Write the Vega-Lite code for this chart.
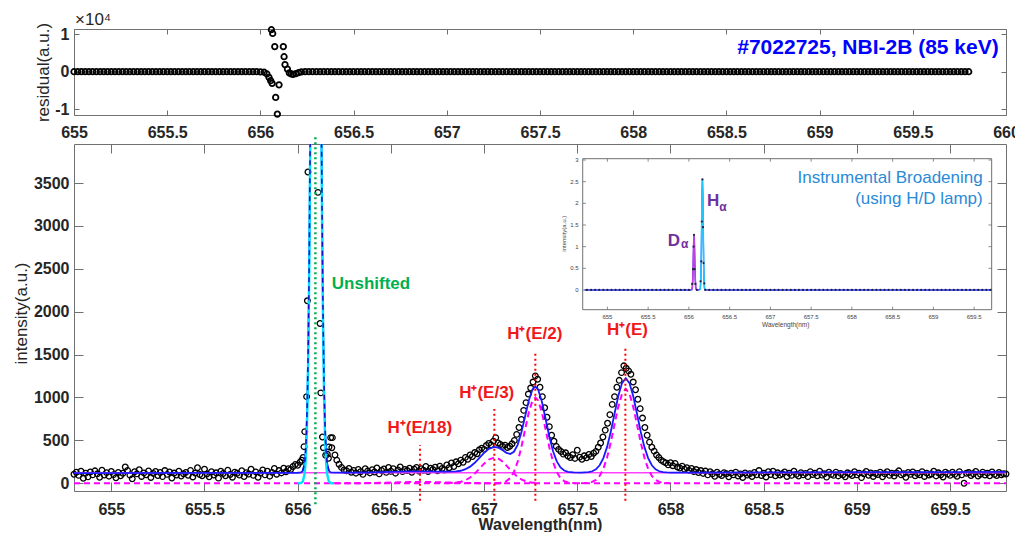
{
"$schema":"https://vega.github.io/schema/vega-lite/v6.json",
"padding":{"left":12,"top":10,"right":5,"bottom":0},
"bounds":"flush",
"spacing":29,
"config":{"font":"Liberation Sans","view":{"stroke":null},
 "axis":{"grid":false,"domainColor":"#707070","tickColor":"#707070","domainWidth":1,"tickWidth":1,"labelColor":"#262626","labelFont":"Liberation Sans","labelFontWeight":"bold","labelFontSize":16,"labelFlush":false,"titleColor":"#262626","titleFont":"Liberation Sans","titleFontSize":17,"titleFontWeight":"normal"}},
"datasets":{
"res":[{"w":655,"r":0},{"w":655.02,"r":0},{"w":655.04,"r":0},{"w":655.06,"r":0},{"w":655.08,"r":0},{"w":655.1,"r":0},{"w":655.12,"r":0},{"w":655.14,"r":0},{"w":655.16,"r":0},{"w":655.18,"r":0},{"w":655.2,"r":0},{"w":655.22,"r":0},{"w":655.24,"r":0},{"w":655.26,"r":0},{"w":655.28,"r":0},{"w":655.3,"r":0},{"w":655.32,"r":0},{"w":655.34,"r":0},{"w":655.36,"r":0},{"w":655.38,"r":0},{"w":655.4,"r":0},{"w":655.42,"r":0},{"w":655.44,"r":0},{"w":655.46,"r":0},{"w":655.48,"r":0},{"w":655.5,"r":0},{"w":655.52,"r":0},{"w":655.54,"r":0},{"w":655.56,"r":0},{"w":655.58,"r":0},{"w":655.6,"r":0},{"w":655.62,"r":0},{"w":655.64,"r":0},{"w":655.66,"r":0},{"w":655.68,"r":0},{"w":655.7,"r":0},{"w":655.72,"r":0},{"w":655.74,"r":0},{"w":655.76,"r":0},{"w":655.78,"r":0},{"w":655.8,"r":0},{"w":655.82,"r":0},{"w":655.84,"r":0},{"w":655.86,"r":0},{"w":655.88,"r":0},{"w":655.9,"r":0},{"w":655.92,"r":0},{"w":655.94,"r":0},{"w":655.96,"r":0},
{"w":655.98,"r":0},{"w":656,"r":-50},{"w":656.02,"r":-150},{"w":656.035,"r":-600},{"w":656.046,"r":-1500},{"w":656.055,"r":-2400},{"w":656.059,"r":11200},{"w":656.063,"r":-3100},{"w":656.066,"r":10200},{"w":656.077,"r":6700},{"w":656.082,"r":-6850},{"w":656.091,"r":-11300},{"w":656.1,"r":-3500},{"w":656.123,"r":6700},{"w":656.127,"r":4000},{"w":656.132,"r":1900},{"w":656.145,"r":700},{"w":656.155,"r":-300},{"w":656.165,"r":-600},{"w":656.175,"r":-700},{"w":656.19,"r":-500},{"w":656.205,"r":-250},{"w":656.22,"r":-60},{"w":656.24,"r":0},
{"w":656.26,"r":0},{"w":656.28,"r":0},{"w":656.3,"r":0},{"w":656.32,"r":0},{"w":656.34,"r":0},{"w":656.36,"r":0},{"w":656.38,"r":0},{"w":656.4,"r":0},{"w":656.42,"r":0},{"w":656.44,"r":0},{"w":656.46,"r":0},{"w":656.48,"r":0},{"w":656.5,"r":0},{"w":656.52,"r":0},{"w":656.54,"r":0},{"w":656.56,"r":0},{"w":656.58,"r":0},{"w":656.6,"r":0},{"w":656.62,"r":0},{"w":656.64,"r":0},{"w":656.66,"r":0},{"w":656.68,"r":0},{"w":656.7,"r":0},{"w":656.72,"r":0},{"w":656.74,"r":0},{"w":656.76,"r":0},{"w":656.78,"r":0},{"w":656.8,"r":0},{"w":656.82,"r":0},{"w":656.84,"r":0},{"w":656.86,"r":0},{"w":656.88,"r":0},{"w":656.9,"r":0},{"w":656.92,"r":0},{"w":656.94,"r":0},{"w":656.96,"r":0},{"w":656.98,"r":0},
{"w":657,"r":0},{"w":657.02,"r":0},{"w":657.04,"r":0},{"w":657.06,"r":0},{"w":657.08,"r":0},{"w":657.1,"r":0},{"w":657.12,"r":0},{"w":657.14,"r":0},{"w":657.16,"r":0},{"w":657.18,"r":0},{"w":657.2,"r":0},{"w":657.22,"r":0},{"w":657.24,"r":0},{"w":657.26,"r":0},{"w":657.28,"r":0},{"w":657.3,"r":0},{"w":657.32,"r":0},{"w":657.34,"r":0},{"w":657.36,"r":0},{"w":657.38,"r":0},{"w":657.4,"r":0},{"w":657.42,"r":0},{"w":657.44,"r":0},{"w":657.46,"r":0},{"w":657.48,"r":0},{"w":657.5,"r":0},{"w":657.52,"r":0},{"w":657.54,"r":0},{"w":657.56,"r":0},{"w":657.58,"r":0},{"w":657.6,"r":0},{"w":657.62,"r":0},{"w":657.64,"r":0},{"w":657.66,"r":0},{"w":657.68,"r":0},{"w":657.7,"r":0},{"w":657.72,"r":0},{"w":657.74,"r":0},{"w":657.76,"r":0},{"w":657.78,"r":0},{"w":657.8,"r":0},{"w":657.82,"r":0},{"w":657.84,"r":0},{"w":657.86,"r":0},{"w":657.88,"r":0},{"w":657.9,"r":0},{"w":657.92,"r":0},{"w":657.94,"r":0},{"w":657.96,"r":0},{"w":657.98,"r":0},
{"w":658,"r":0},{"w":658.02,"r":0},{"w":658.04,"r":0},{"w":658.06,"r":0},{"w":658.08,"r":0},{"w":658.1,"r":0},{"w":658.12,"r":0},{"w":658.14,"r":0},{"w":658.16,"r":0},{"w":658.18,"r":0},{"w":658.2,"r":0},{"w":658.22,"r":0},{"w":658.24,"r":0},{"w":658.26,"r":0},{"w":658.28,"r":0},{"w":658.3,"r":0},{"w":658.32,"r":0},{"w":658.34,"r":0},{"w":658.36,"r":0},{"w":658.38,"r":0},{"w":658.4,"r":0},{"w":658.42,"r":0},{"w":658.44,"r":0},{"w":658.46,"r":0},{"w":658.48,"r":0},{"w":658.5,"r":0},{"w":658.52,"r":0},{"w":658.54,"r":0},{"w":658.56,"r":0},{"w":658.58,"r":0},{"w":658.6,"r":0},{"w":658.62,"r":0},{"w":658.64,"r":0},{"w":658.66,"r":0},{"w":658.68,"r":0},{"w":658.7,"r":0},{"w":658.72,"r":0},{"w":658.74,"r":0},{"w":658.76,"r":0},{"w":658.78,"r":0},{"w":658.8,"r":0},{"w":658.82,"r":0},{"w":658.84,"r":0},{"w":658.86,"r":0},{"w":658.88,"r":0},{"w":658.9,"r":0},{"w":658.92,"r":0},{"w":658.94,"r":0},{"w":658.96,"r":0},{"w":658.98,"r":0},
{"w":659,"r":0},{"w":659.02,"r":0},{"w":659.04,"r":0},{"w":659.06,"r":0},{"w":659.08,"r":0},{"w":659.1,"r":0},{"w":659.12,"r":0},{"w":659.14,"r":0},{"w":659.16,"r":0},{"w":659.18,"r":0},{"w":659.2,"r":0},{"w":659.22,"r":0},{"w":659.24,"r":0},{"w":659.26,"r":0},{"w":659.28,"r":0},{"w":659.3,"r":0},{"w":659.32,"r":0},{"w":659.34,"r":0},{"w":659.36,"r":0},{"w":659.38,"r":0},{"w":659.4,"r":0},{"w":659.42,"r":0},{"w":659.44,"r":0},{"w":659.46,"r":0},{"w":659.48,"r":0},{"w":659.5,"r":0},{"w":659.52,"r":0},{"w":659.54,"r":0},{"w":659.56,"r":0},{"w":659.58,"r":0},{"w":659.6,"r":0},{"w":659.62,"r":0},{"w":659.64,"r":0},{"w":659.66,"r":0},{"w":659.68,"r":0},{"w":659.7,"r":0},{"w":659.72,"r":0},{"w":659.74,"r":0},{"w":659.76,"r":0},{"w":659.78,"r":0},{"w":659.8,"r":0}],
"main":[
{"w":654.8,"i":105},{"w":654.8125,"i":128},{"w":654.825,"i":92},{"w":654.8375,"i":140},{"w":654.85,"i":58},{"w":654.8625,"i":118},{"w":654.875,"i":75},{"w":654.8875,"i":132},
{"w":654.9,"i":98},{"w":654.9125,"i":145},{"w":654.925,"i":110},{"w":654.9375,"i":70},{"w":654.95,"i":152},{"w":654.9625,"i":96},{"w":654.975,"i":124},{"w":654.9875,"i":83},
{"w":655,"i":138},{"w":655.0125,"i":101},{"w":655.025,"i":64},{"w":655.0375,"i":126},{"w":655.05,"i":88},{"w":655.0625,"i":117},{"w":655.075,"i":190},{"w":655.0875,"i":150},
{"w":655.1,"i":95},{"w":655.1125,"i":52},{"w":655.125,"i":134},{"w":655.1375,"i":110},{"w":655.15,"i":158},{"w":655.1625,"i":80},{"w":655.175,"i":121},{"w":655.1875,"i":99},
{"w":655.2,"i":143},{"w":655.2125,"i":68},{"w":655.225,"i":115},{"w":655.2375,"i":137},{"w":655.25,"i":90},{"w":655.2625,"i":126},{"w":655.275,"i":78},{"w":655.2875,"i":148},
{"w":655.3,"i":104},{"w":655.3125,"i":131},{"w":655.325,"i":62},{"w":655.3375,"i":119},{"w":655.35,"i":96},{"w":655.3625,"i":141},{"w":655.375,"i":85},{"w":655.3875,"i":112},
{"w":655.4,"i":127},{"w":655.4125,"i":93},{"w":655.425,"i":150},{"w":655.4375,"i":74},{"w":655.45,"i":118},{"w":655.4625,"i":182},{"w":655.475,"i":102},{"w":655.4875,"i":88},
{"w":655.5,"i":163},{"w":655.5125,"i":109},{"w":655.525,"i":76},{"w":655.5375,"i":135},{"w":655.55,"i":97},{"w":655.5625,"i":122},{"w":655.575,"i":60},{"w":655.5875,"i":140},
{"w":655.6,"i":114},{"w":655.6125,"i":87},{"w":655.625,"i":152},{"w":655.6375,"i":103},{"w":655.65,"i":71},{"w":655.6625,"i":130},{"w":655.675,"i":117},{"w":655.6875,"i":95},
{"w":655.7,"i":146},{"w":655.7125,"i":79},{"w":655.725,"i":124},{"w":655.7375,"i":108},{"w":655.75,"i":164},{"w":655.7625,"i":92},{"w":655.775,"i":133},{"w":655.7875,"i":70},
{"w":655.8,"i":118},{"w":655.8125,"i":155},{"w":655.825,"i":98},{"w":655.8375,"i":141},{"w":655.85,"i":83},{"w":655.8625,"i":127},{"w":655.875,"i":172},{"w":655.8875,"i":106},
{"w":655.9,"i":148},{"w":655.9125,"i":121},{"w":655.925,"i":176},{"w":655.9375,"i":134},{"w":655.95,"i":170},{"w":655.9625,"i":160},{"w":655.975,"i":195},{"w":655.9875,"i":220},
{"w":656,"i":210},{"w":656.0125,"i":245},{"w":656.022,"i":268},{"w":656.029,"i":300},{"w":656.034,"i":427},{"w":656.038,"i":602},{"w":656.048,"i":1010},{"w":656.052,"i":2127},{"w":656.055,"i":3629},
{"w":656.109,"i":3391},{"w":656.12,"i":1862},{"w":656.124,"i":1054},{"w":656.133,"i":540},{"w":656.138,"i":415},{"w":656.15,"i":327},{"w":656.159,"i":338},{"w":656.165,"i":292},{"w":656.168,"i":424},{"w":656.177,"i":532},{"w":656.183,"i":415},{"w":656.186,"i":532},{"w":656.2,"i":330},{"w":656.21,"i":270},{"w":656.222,"i":222},{"w":656.235,"i":185},{"w":656.249,"i":155},
{"w":656.2625,"i":145},{"w":656.275,"i":172},{"w":656.2875,"i":128},
{"w":656.3,"i":150},{"w":656.3125,"i":118},{"w":656.325,"i":162},{"w":656.3375,"i":135},{"w":656.35,"i":104},{"w":656.3625,"i":170},{"w":656.375,"i":142},{"w":656.3875,"i":121},
{"w":656.4,"i":158},{"w":656.4125,"i":132},{"w":656.425,"i":178},{"w":656.4375,"i":110},{"w":656.45,"i":149},{"w":656.4625,"i":166},{"w":656.475,"i":127},{"w":656.4875,"i":184},
{"w":656.5,"i":140},{"w":656.5125,"i":171},{"w":656.525,"i":118},{"w":656.5375,"i":155},{"w":656.55,"i":190},{"w":656.5625,"i":136},{"w":656.575,"i":162},{"w":656.5875,"i":148},
{"w":656.6,"i":176},{"w":656.6125,"i":129},{"w":656.625,"i":165},{"w":656.6375,"i":185},{"w":656.65,"i":142},{"w":656.6625,"i":170},{"w":656.675,"i":152},{"w":656.6875,"i":195},
{"w":656.7,"i":138},{"w":656.7125,"i":176},{"w":656.725,"i":160},{"w":656.7375,"i":188},{"w":656.75,"i":147},{"w":656.7625,"i":200},{"w":656.775,"i":172},{"w":656.7875,"i":155},
{"w":656.8,"i":214},{"w":656.8125,"i":182},{"w":656.825,"i":236},{"w":656.8375,"i":195},{"w":656.85,"i":250},{"w":656.8625,"i":228},{"w":656.875,"i":270},{"w":656.8875,"i":245},
{"w":656.9,"i":302},{"w":656.9125,"i":280},{"w":656.925,"i":330},{"w":656.9375,"i":312},{"w":656.95,"i":358},{"w":656.9625,"i":345},{"w":656.975,"i":390},{"w":656.9875,"i":410},
{"w":657,"i":395},{"w":657.0125,"i":440},{"w":657.025,"i":465},{"w":657.0375,"i":448},{"w":657.05,"i":490},{"w":657.0625,"i":532},{"w":657.075,"i":470},{"w":657.0875,"i":452},
{"w":657.1,"i":430},{"w":657.1125,"i":445},{"w":657.125,"i":418},{"w":657.1375,"i":432},{"w":657.15,"i":460},{"w":657.1625,"i":500},{"w":657.175,"i":570},{"w":657.1875,"i":650},
{"w":657.2,"i":745},{"w":657.2125,"i":850},{"w":657.225,"i":940},{"w":657.2375,"i":1040},{"w":657.25,"i":1110},{"w":657.2625,"i":1180},{"w":657.275,"i":1252},{"w":657.2875,"i":1213},
{"w":657.3,"i":1120},{"w":657.3125,"i":1010},{"w":657.325,"i":880},{"w":657.3375,"i":770},{"w":657.35,"i":660},{"w":657.3625,"i":560},{"w":657.375,"i":490},{"w":657.3875,"i":430},
{"w":657.4,"i":395},{"w":657.4125,"i":370},{"w":657.425,"i":340},{"w":657.4375,"i":355},{"w":657.45,"i":318},{"w":657.4625,"i":300},{"w":657.475,"i":332},{"w":657.4875,"i":290},
{"w":657.5,"i":385},{"w":657.5125,"i":305},{"w":657.525,"i":280},{"w":657.5375,"i":320},{"w":657.55,"i":298},{"w":657.5625,"i":335},{"w":657.575,"i":312},{"w":657.5875,"i":350},
{"w":657.6,"i":372},{"w":657.6125,"i":420},{"w":657.625,"i":470},{"w":657.6375,"i":540},{"w":657.65,"i":620},{"w":657.6625,"i":700},{"w":657.675,"i":800},{"w":657.6875,"i":920},
{"w":657.7,"i":1010},{"w":657.7125,"i":1120},{"w":657.725,"i":1200},{"w":657.7375,"i":1290},{"w":657.75,"i":1369},{"w":657.7625,"i":1340},{"w":657.775,"i":1310},{"w":657.7875,"i":1270},
{"w":657.8,"i":1180},{"w":657.8125,"i":1090},{"w":657.825,"i":980},{"w":657.8375,"i":870},{"w":657.85,"i":760},{"w":657.8625,"i":650},{"w":657.875,"i":560},{"w":657.8875,"i":480},
{"w":657.9,"i":420},{"w":657.9125,"i":375},{"w":657.925,"i":330},{"w":657.9375,"i":300},{"w":657.95,"i":270},{"w":657.9625,"i":252},{"w":657.975,"i":238},{"w":657.9875,"i":215},
{"w":658,"i":240},{"w":658.0125,"i":205},{"w":658.025,"i":232},{"w":658.0375,"i":190},{"w":658.05,"i":178},{"w":658.0625,"i":200},{"w":658.075,"i":165},{"w":658.0875,"i":182},
{"w":658.1,"i":150},{"w":658.1125,"i":172},{"w":658.125,"i":138},{"w":658.1375,"i":160},{"w":658.15,"i":126},{"w":658.1625,"i":148},{"w":658.175,"i":115},{"w":658.1875,"i":142},
{"w":658.2,"i":98},{"w":658.2125,"i":136},{"w":658.225,"i":110},{"w":658.2375,"i":82},{"w":658.25,"i":128},{"w":658.2625,"i":105},{"w":658.275,"i":90},{"w":658.2875,"i":124},
{"w":658.3,"i":112},{"w":658.3125,"i":76},{"w":658.325,"i":118},{"w":658.3375,"i":98},{"w":658.35,"i":130},{"w":658.3625,"i":85},{"w":658.375,"i":108},{"w":658.3875,"i":68},
{"w":658.4,"i":120},{"w":658.4125,"i":95},{"w":658.425,"i":112},{"w":658.4375,"i":80},{"w":658.45,"i":126},{"w":658.4625,"i":100},{"w":658.475,"i":148},{"w":658.4875,"i":90},
{"w":658.5,"i":116},{"w":658.5125,"i":74},{"w":658.525,"i":134},{"w":658.5375,"i":102},{"w":658.55,"i":140},{"w":658.5625,"i":88},{"w":658.575,"i":122},{"w":658.5875,"i":96},
{"w":658.6,"i":110},{"w":658.6125,"i":132},{"w":658.625,"i":79},{"w":658.6375,"i":118},{"w":658.65,"i":92},{"w":658.6625,"i":140},{"w":658.675,"i":104},{"w":658.6875,"i":85},
{"w":658.7,"i":124},{"w":658.7125,"i":98},{"w":658.725,"i":115},{"w":658.7375,"i":78},{"w":658.75,"i":136},{"w":658.7625,"i":102},{"w":658.775,"i":118},{"w":658.7875,"i":88},
{"w":658.8,"i":140},{"w":658.8125,"i":95},{"w":658.825,"i":110},{"w":658.8375,"i":72},{"w":658.85,"i":128},{"w":658.8625,"i":104},{"w":658.875,"i":92},{"w":658.8875,"i":130},
{"w":658.9,"i":86},{"w":658.9125,"i":115},{"w":658.925,"i":100},{"w":658.9375,"i":76},{"w":658.95,"i":122},{"w":658.9625,"i":108},{"w":658.975,"i":90},{"w":658.9875,"i":134},
{"w":659,"i":98},{"w":659.0125,"i":118},{"w":659.025,"i":66},{"w":659.0375,"i":112},{"w":659.05,"i":138},{"w":659.0625,"i":94},{"w":659.075,"i":120},{"w":659.0875,"i":80},
{"w":659.1,"i":114},{"w":659.1125,"i":102},{"w":659.125,"i":128},{"w":659.1375,"i":76},{"w":659.15,"i":110},{"w":659.1625,"i":135},{"w":659.175,"i":92},{"w":659.1875,"i":118},
{"w":659.2,"i":84},{"w":659.2125,"i":120},{"w":659.225,"i":145},{"w":659.2375,"i":98},{"w":659.25,"i":112},{"w":659.2625,"i":70},{"w":659.275,"i":126},{"w":659.2875,"i":104},
{"w":659.3,"i":132},{"w":659.3125,"i":88},{"w":659.325,"i":114},{"w":659.3375,"i":100},{"w":659.35,"i":136},{"w":659.3625,"i":80},{"w":659.375,"i":118},{"w":659.3875,"i":96},
{"w":659.4,"i":108},{"w":659.4125,"i":140},{"w":659.425,"i":86},{"w":659.4375,"i":122},{"w":659.45,"i":100},{"w":659.4625,"i":74},{"w":659.475,"i":130},{"w":659.4875,"i":110},
{"w":659.5,"i":92},{"w":659.5125,"i":128},{"w":659.525,"i":104},{"w":659.5375,"i":82},{"w":659.55,"i":136},{"w":659.5625,"i":98},{"w":659.575,"i":0},{"w":659.5875,"i":116},
{"w":659.6,"i":125},{"w":659.6125,"i":90},{"w":659.625,"i":112},{"w":659.6375,"i":138},{"w":659.65,"i":84},{"w":659.6625,"i":106},{"w":659.675,"i":130},{"w":659.6875,"i":96},
{"w":659.7,"i":118},{"w":659.7125,"i":88},{"w":659.725,"i":132},{"w":659.7375,"i":104},{"w":659.75,"i":90},{"w":659.7625,"i":126},{"w":659.775,"i":100},{"w":659.7875,"i":112},{"w":659.8,"i":108}],
"blue":[{"w":654.8,"i":119},{"w":655.4,"i":121},{"w":656,"i":123},{"w":656.0175,"i":127},{"w":656.0275,"i":145},{"w":656.0375,"i":238},{"w":656.0425,"i":368},{"w":656.0475,"i":610},{"w":656.0525,"i":1030},{"w":656.0575,"i":1710},{"w":656.0625,"i":2720},{"w":656.0675,"i":4107},{"w":656.0725,"i":5839},{"w":656.0775,"i":7807},{"w":656.0875,"i":11522},{"w":656.0975,"i":13124},{"w":656.1075,"i":11522},{"w":656.1175,"i":7807},{"w":656.1225,"i":5839},{"w":656.1275,"i":4107},{"w":656.1325,"i":2720},{"w":656.1375,"i":1710},{"w":656.1425,"i":1030},{"w":656.1475,"i":610},{"w":656.1525,"i":368},{"w":656.1575,"i":238},{"w":656.1675,"i":145},{"w":656.1775,"i":127},{"w":656.2,"i":124},{"w":656.3,"i":125},{"w":656.4,"i":127},{"w":656.5,"i":132},{"w":656.6,"i":138},{"w":656.66,"i":139},{"w":656.7,"i":138},{"w":656.75,"i":136},{"w":656.8,"i":135},{"w":656.85,"i":138},{"w":656.875,"i":146},{"w":656.9,"i":164},{"w":656.925,"i":194},{"w":656.95,"i":239},{"w":656.975,"i":296},{"w":657,"i":354},{"w":657.025,"i":402},{"w":657.055,"i":425},{"w":657.08,"i":412},{"w":657.1,"i":384},{"w":657.12,"i":355},{"w":657.14,"i":342},{"w":657.16,"i":367},{"w":657.18,"i":448},{"w":657.2,"i":591},{"w":657.22,"i":779},{"w":657.24,"i":966},{"w":657.26,"i":1097},{"w":657.275,"i":1128},{"w":657.29,"i":1092},{"w":657.31,"i":953},{"w":657.33,"i":752},{"w":657.35,"i":545},{"w":657.37,"i":373},{"w":657.39,"i":255},{"w":657.41,"i":185},{"w":657.43,"i":149},{"w":657.45,"i":133},{"w":657.48,"i":126},{"w":657.52,"i":125},{"w":657.56,"i":130},{"w":657.58,"i":140},{"w":657.6,"i":163},{"w":657.62,"i":210},{"w":657.64,"i":293},{"w":657.66,"i":424},{"w":657.68,"i":603},{"w":657.7,"i":813},{"w":657.72,"i":1017},{"w":657.74,"i":1168},{"w":657.76,"i":1224},{"w":657.78,"i":1168},{"w":657.8,"i":1017},{"w":657.82,"i":813},{"w":657.84,"i":603},{"w":657.86,"i":424},{"w":657.88,"i":293},{"w":657.9,"i":210},{"w":657.92,"i":163},{"w":657.94,"i":140},{"w":657.96,"i":130},{"w":657.98,"i":126},{"w":658,"i":125},{"w":658.5,"i":127},{"w":659,"i":129},{"w":659.5,"i":131},{"w":659.8,"i":132}],
"comp":[{"c":"a","w":656.2,"i":0},{"c":"a","w":656.3,"i":1},{"c":"a","w":656.4,"i":3},{"c":"a","w":656.5,"i":8.5},{"c":"a","w":656.6,"i":14},{"c":"a","w":656.66,"i":15},{"c":"a","w":656.7,"i":14.5},{"c":"a","w":656.8,"i":10},{"c":"a","w":656.9,"i":4},{"c":"a","w":657,"i":1.2},{"c":"a","w":657.1,"i":0},
{"c":"b","w":656.8,"i":1},{"c":"b","w":656.85,"i":7},{"c":"b","w":656.875,"i":17},{"c":"b","w":656.9,"i":35},{"c":"b","w":656.925,"i":67},{"c":"b","w":656.95,"i":113},{"c":"b","w":656.975,"i":170},{"c":"b","w":657,"i":229},{"c":"b","w":657.025,"i":277},{"c":"b","w":657.055,"i":300},{"c":"b","w":657.08,"i":284},{"c":"b","w":657.1,"i":251},{"c":"b","w":657.12,"i":206},{"c":"b","w":657.14,"i":158},{"c":"b","w":657.16,"i":113},{"c":"b","w":657.18,"i":75},{"c":"b","w":657.2,"i":46},{"c":"b","w":657.22,"i":27},{"c":"b","w":657.24,"i":14},{"c":"b","w":657.26,"i":7},{"c":"b","w":657.3,"i":1},
{"c":"c","w":657.06,"i":0.5},{"c":"c","w":657.08,"i":3},{"c":"c","w":657.1,"i":9},{"c":"c","w":657.12,"i":25},{"c":"c","w":657.14,"i":60},{"c":"c","w":657.16,"i":131},{"c":"c","w":657.18,"i":249},{"c":"c","w":657.2,"i":421},{"c":"c","w":657.22,"i":628},{"c":"c","w":657.24,"i":828},{"c":"c","w":657.26,"i":966},{"c":"c","w":657.275,"i":1000},{"c":"c","w":657.29,"i":966},{"c":"c","w":657.31,"i":828},{"c":"c","w":657.33,"i":628},{"c":"c","w":657.35,"i":421},{"c":"c","w":657.37,"i":249},{"c":"c","w":657.39,"i":131},{"c":"c","w":657.41,"i":60},{"c":"c","w":657.43,"i":25},{"c":"c","w":657.45,"i":9},{"c":"c","w":657.47,"i":3},{"c":"c","w":657.49,"i":0.5},
{"c":"d","w":657.52,"i":0.5},{"c":"d","w":657.54,"i":2},{"c":"d","w":657.56,"i":6},{"c":"d","w":657.58,"i":16},{"c":"d","w":657.6,"i":39},{"c":"d","w":657.62,"i":86},{"c":"d","w":657.64,"i":169},{"c":"d","w":657.66,"i":300},{"c":"d","w":657.68,"i":479},{"c":"d","w":657.7,"i":689},{"c":"d","w":657.72,"i":893},{"c":"d","w":657.74,"i":1044},{"c":"d","w":657.76,"i":1100},{"c":"d","w":657.78,"i":1044},{"c":"d","w":657.8,"i":893},{"c":"d","w":657.82,"i":689},{"c":"d","w":657.84,"i":479},{"c":"d","w":657.86,"i":300},{"c":"d","w":657.88,"i":169},{"c":"d","w":657.9,"i":86},{"c":"d","w":657.92,"i":39},{"c":"d","w":657.94,"i":16},{"c":"d","w":657.96,"i":6},{"c":"d","w":657.98,"i":2},{"c":"d","w":658,"i":0.5},
{"c":"z","w":654.8,"i":0},{"c":"z","w":659.8,"i":0}],
"cyan":[{"w":656.0,"i":0},{"w":656.0175,"i":3},{"w":656.0275,"i":21},{"w":656.0375,"i":114},{"w":656.0425,"i":244},{"w":656.0475,"i":486},{"w":656.0525,"i":906},{"w":656.0575,"i":1586},{"w":656.0625,"i":2596},{"w":656.0675,"i":3983},{"w":656.0725,"i":5715},{"w":656.0775,"i":7683},{"w":656.0875,"i":11398},{"w":656.0975,"i":13000},{"w":656.1075,"i":11398},{"w":656.1175,"i":7683},{"w":656.1225,"i":5715},{"w":656.1275,"i":3983},{"w":656.1325,"i":2596},{"w":656.1375,"i":1586},{"w":656.1425,"i":906},{"w":656.1475,"i":486},{"w":656.1525,"i":244},{"w":656.1575,"i":114},{"w":656.1675,"i":21},{"w":656.1775,"i":3},{"w":656.195,"i":0}],
"bdash":[{"w":656.0275,"i":145},{"w":656.0375,"i":238},{"w":656.0425,"i":368},{"w":656.0475,"i":610},{"w":656.0525,"i":1030},{"w":656.0575,"i":1710},{"w":656.0625,"i":2720},{"w":656.0675,"i":4107},{"w":656.0725,"i":5839},{"w":656.0775,"i":7807},{"w":656.0875,"i":11522},{"w":656.0975,"i":13124},{"w":656.1075,"i":11522},{"w":656.1175,"i":7807},{"w":656.1225,"i":5839},{"w":656.1275,"i":4107},{"w":656.1325,"i":2720},{"w":656.1375,"i":1710},{"w":656.1425,"i":1030},{"w":656.1475,"i":610},{"w":656.1525,"i":368},{"w":656.1575,"i":238},{"w":656.1675,"i":145}],
"ixt":[{"v":655},{"v":655.5},{"v":656},{"v":656.5},{"v":657},{"v":657.5},{"v":658},{"v":658.5},{"v":659},{"v":659.5}],
"iyt":[{"v":0},{"v":0.5},{"v":1},{"v":1.5},{"v":2},{"v":2.5},{"v":3}],
"idots":[{"w":654.75,"v":0},{"w":654.8,"v":0},{"w":654.85,"v":0},{"w":654.9,"v":0},{"w":654.95,"v":0},{"w":655,"v":0},{"w":655.05,"v":0},{"w":655.1,"v":0},{"w":655.15,"v":0},{"w":655.2,"v":0},{"w":655.25,"v":0},{"w":655.3,"v":0},{"w":655.35,"v":0},{"w":655.4,"v":0},{"w":655.45,"v":0},{"w":655.5,"v":0},{"w":655.55,"v":0},{"w":655.6,"v":0},{"w":655.65,"v":0},{"w":655.7,"v":0},{"w":655.75,"v":0},{"w":655.8,"v":0},{"w":655.85,"v":0},{"w":655.9,"v":0},{"w":655.95,"v":0},{"w":656,"v":0},
{"w":656.04,"v":0.14},{"w":656.05,"v":0.48},{"w":656.058,"v":1.0},{"w":656.063,"v":1.27},{"w":656.07,"v":0.48},{"w":656.08,"v":0.14},{"w":656.1,"v":0},{"w":656.143,"v":0.2},{"w":656.152,"v":0.66},{"w":656.159,"v":1.58},{"w":656.166,"v":2.55},{"w":656.173,"v":1.45},{"w":656.18,"v":0.62},{"w":656.19,"v":0.15},
{"w":656.2,"v":0},{"w":656.25,"v":0},{"w":656.3,"v":0},{"w":656.35,"v":0},{"w":656.4,"v":0},{"w":656.45,"v":0},{"w":656.5,"v":0},{"w":656.55,"v":0},{"w":656.6,"v":0},{"w":656.65,"v":0},{"w":656.7,"v":0},{"w":656.75,"v":0},{"w":656.8,"v":0},{"w":656.85,"v":0},{"w":656.9,"v":0},{"w":656.95,"v":0},{"w":657,"v":0},{"w":657.05,"v":0},{"w":657.1,"v":0},{"w":657.15,"v":0},{"w":657.2,"v":0},{"w":657.25,"v":0},{"w":657.3,"v":0},{"w":657.35,"v":0},{"w":657.4,"v":0},{"w":657.45,"v":0},{"w":657.5,"v":0},{"w":657.55,"v":0},{"w":657.6,"v":0},{"w":657.65,"v":0},{"w":657.7,"v":0},{"w":657.75,"v":0},{"w":657.8,"v":0},{"w":657.85,"v":0},{"w":657.9,"v":0},{"w":657.95,"v":0},{"w":658,"v":0},{"w":658.05,"v":0},{"w":658.1,"v":0},{"w":658.15,"v":0},{"w":658.2,"v":0},{"w":658.25,"v":0},{"w":658.3,"v":0},{"w":658.35,"v":0},{"w":658.4,"v":0},{"w":658.45,"v":0},{"w":658.5,"v":0},{"w":658.55,"v":0},{"w":658.6,"v":0},{"w":658.65,"v":0},{"w":658.7,"v":0},{"w":658.75,"v":0},{"w":658.8,"v":0},{"w":658.85,"v":0},{"w":658.9,"v":0},{"w":658.95,"v":0},{"w":659,"v":0},{"w":659.05,"v":0},{"w":659.1,"v":0},{"w":659.15,"v":0},{"w":659.2,"v":0},{"w":659.25,"v":0},{"w":659.3,"v":0},{"w":659.35,"v":0},{"w":659.4,"v":0},{"w":659.45,"v":0},{"w":659.5,"v":0},{"w":659.55,"v":0},{"w":659.6,"v":0},{"w":659.65,"v":0},{"w":659.7,"v":0}],
"itot":[{"w":654.72,"v":0},{"w":656.02,"v":0},{"w":656.033,"v":0.002},{"w":656.038,"v":0.017},{"w":656.043,"v":0.08},{"w":656.048,"v":0.26},{"w":656.053,"v":0.63},{"w":656.058,"v":1.05},{"w":656.063,"v":1.25},{"w":656.068,"v":1.05},{"w":656.073,"v":0.63},{"w":656.078,"v":0.26},{"w":656.083,"v":0.08},{"w":656.088,"v":0.017},{"w":656.093,"v":0.002},{"w":656.11,"v":0},{"w":656.136,"v":0.01},{"w":656.141,"v":0.054},{"w":656.146,"v":0.216},{"w":656.151,"v":0.64},{"w":656.156,"v":1.37},{"w":656.161,"v":2.19},{"w":656.166,"v":2.55},{"w":656.171,"v":2.19},{"w":656.176,"v":1.37},{"w":656.181,"v":0.64},{"w":656.186,"v":0.216},{"w":656.191,"v":0.054},{"w":656.196,"v":0.01},{"w":656.22,"v":0},{"w":659.71,"v":0}],
"iD":[{"w":656.033,"v":0.002},{"w":656.038,"v":0.017},{"w":656.043,"v":0.08},{"w":656.048,"v":0.26},{"w":656.053,"v":0.63},{"w":656.058,"v":1.05},{"w":656.063,"v":1.25},{"w":656.068,"v":1.05},{"w":656.073,"v":0.63},{"w":656.078,"v":0.26},{"w":656.083,"v":0.08},{"w":656.088,"v":0.017},{"w":656.093,"v":0.002}],
"iH":[{"w":656.136,"v":0.01},{"w":656.141,"v":0.054},{"w":656.146,"v":0.216},{"w":656.151,"v":0.64},{"w":656.156,"v":1.37},{"w":656.161,"v":2.19},{"w":656.166,"v":2.55},{"w":656.171,"v":2.19},{"w":656.176,"v":1.37},{"w":656.181,"v":0.64},{"w":656.186,"v":0.216},{"w":656.191,"v":0.054},{"w":656.196,"v":0.01}]
},
"vconcat":[
{"width":932,"height":86,
 "layer":[
  {"data":{"name":"res"},"mark":{"type":"point","shape":"circle","filled":false,"color":"#000","strokeWidth":1.8,"size":30,"opacity":1},
   "encoding":{
    "x":{"field":"w","type":"quantitative","scale":{"domain":[655,660],"nice":false,"zero":false},
     "axis":{"orient":"bottom","values":[655,655.5,656,656.5,657,657.5,658,658.5,659,659.5,660],"format":"~g","labelFontWeight":"bold","tickSize":-5,"labelPadding":14,"title":null}},
    "y":{"field":"r","type":"quantitative","scale":{"domain":[-11550,11390],"nice":false,"zero":false},
     "axis":{"orient":"left","values":[-10000,0,10000],"labelExpr":"''+datum.value/10000","labelFontWeight":"bold","tickSize":-5,"labelPadding":10,"title":"residual(a.u.)","titleX":-31,"titleBaseline":"middle"}}}},
  {"data":{"values":[{"t":"#7022725, NBI-2B (85 keV)","w":659.961,"r":6400}]},
   "mark":{"type":"text","align":"right","baseline":"middle","fontSize":21,"fontWeight":"bold","color":"#0000ff"},
   "encoding":{
    "x":{"field":"w","type":"quantitative","axis":{"orient":"top","labels":false,"values":[655,655.5,656,656.5,657,657.5,658,658.5,659,659.5,660],"tickSize":-5,"title":null}},
    "y":{"field":"r","type":"quantitative","axis":{"orient":"right","labels":false,"values":[-10000,0,10000],"tickSize":-5,"title":null}},
    "text":{"field":"t"}}},
  {"data":{"values":[{"t":"×10⁴","w":655,"r":13900}]},
   "mark":{"type":"text","align":"left","baseline":"middle","fontSize":17,"color":"#262626","dx":1},
   "encoding":{"x":{"field":"w","type":"quantitative","axis":null},"y":{"field":"r","type":"quantitative","axis":null},"text":{"field":"t"}}}
 ]},
{"width":932,"height":347,
 "layer":[
  {"layer":[
    {"data":{"name":"main"},"mark":{"type":"point","shape":"circle","filled":false,"color":"#000","strokeWidth":1.3,"size":32,"opacity":1},
     "encoding":{
      "x":{"field":"w","type":"quantitative","scale":{"domain":[654.8,659.8],"nice":false,"zero":false},
       "axis":{"orient":"bottom","values":[655,655.5,656,656.5,657,657.5,658,658.5,659,659.5],"format":"~g","labelFontWeight":"bold","tickSize":-9,"labelPadding":19,"title":"Wavelength(nm)","titleFontWeight":"bold","titleFontSize":16,"titleY":33,"titleBaseline":"middle"}},
      "y":{"field":"i","type":"quantitative","scale":{"domain":[-90,3955],"nice":false,"zero":false},
       "axis":{"orient":"left","values":[0,500,1000,1500,2000,2500,3000,3500],"format":"d","labelFontWeight":"bold","tickSize":-9,"labelPadding":14,"title":"intensity(a.u.)","titleX":-53,"titleY":169,"titleBaseline":"middle"}}}},
    {"data":{"values":[{"w":654.8,"i":124},{"w":659.8,"i":124}]},"mark":{"type":"line","color":"#ff40ff","strokeWidth":1.5},
     "encoding":{
      "x":{"field":"w","type":"quantitative","axis":{"orient":"top","labels":false,"values":[655,655.5,656,656.5,657,657.5,658,658.5,659,659.5],"tickSize":-9,"title":null}},
      "y":{"field":"i","type":"quantitative","axis":{"orient":"right","labels":false,"values":[0,500,1000,1500,2000,2500,3000,3500],"tickSize":-9,"title":null}}}},
    {"data":{"name":"comp"},"mark":{"type":"line","color":"#ff00ff","strokeWidth":2,"strokeDash":[6,4],"clip":true},
     "encoding":{"x":{"field":"w","type":"quantitative","axis":null},"y":{"field":"i","type":"quantitative","axis":null},"detail":{"field":"c"}}},
    {"data":{"name":"blue"},"mark":{"type":"line","color":"#1a1aff","strokeWidth":1.8,"clip":true},
     "encoding":{"x":{"field":"w","type":"quantitative","axis":null},"y":{"field":"i","type":"quantitative","axis":null}}},
    {"data":{"name":"cyan"},"mark":{"type":"line","color":"#00e0ff","strokeWidth":2.4,"clip":true},
     "encoding":{"x":{"field":"w","type":"quantitative","axis":null},"y":{"field":"i","type":"quantitative","axis":null}}},
    {"data":{"name":"bdash"},"mark":{"type":"line","color":"#1010d0","strokeWidth":1.5,"strokeDash":[5,4],"clip":true},
     "encoding":{"x":{"field":"w","type":"quantitative","axis":null},"y":{"field":"i","type":"quantitative","axis":null}}},
    {"data":{"values":[{"w":656.656,"lo":-205,"hi":447},{"w":657.055,"lo":-205,"hi":867},{"w":657.275,"lo":-205,"hi":1544},{"w":657.758,"lo":-205,"hi":1582}]},
     "mark":{"type":"rule","color":"#ff0000","strokeWidth":2,"strokeDash":[2,3]},
     "encoding":{"x":{"field":"w","type":"quantitative","axis":null},"y":{"field":"lo","type":"quantitative","axis":null},"y2":{"field":"hi"}}},
    {"data":{"values":[{"w":656.095,"lo":-245,"hi":4040}]},
     "mark":{"type":"rule","color":"#00b050","strokeWidth":2.5,"strokeDash":[2,3]},
     "encoding":{"x":{"field":"w","type":"quantitative","axis":null},"y":{"field":"lo","type":"quantitative","axis":null},"y2":{"field":"hi"}}},
    {"data":{"values":[{"t":"H⁺(E/18)","w":656.655,"i":649},{"t":"H⁺(E/3)","w":657.014,"i":1057},{"t":"H⁺(E/2)","w":657.272,"i":1745},{"t":"H⁺(E)","w":657.769,"i":1785}]},
     "mark":{"type":"text","align":"center","baseline":"middle","fontSize":17,"fontWeight":"bold","color":"#f01818"},
     "encoding":{"x":{"field":"w","type":"quantitative","axis":null},"y":{"field":"i","type":"quantitative","axis":null},"text":{"field":"t"}}},
    {"data":{"values":[{"t":"Unshifted","w":656.183,"i":2325}]},
     "mark":{"type":"text","align":"left","baseline":"middle","fontSize":17,"fontWeight":"bold","color":"#00b050"},
     "encoding":{"x":{"field":"w","type":"quantitative","axis":null},"y":{"field":"i","type":"quantitative","axis":null},"text":{"field":"t"}}}
  ]},
  {"layer":[
    {"data":{"values":[{}]},"mark":{"type":"rect","fill":"#ffffff","stroke":"#707070","strokeWidth":1},
     "encoding":{
      "x":{"datum":654.697,"type":"quantitative","scale":{"domain":[648.455,659.891],"nice":false,"zero":false},"axis":null},
      "x2":{"datum":659.715},
      "y":{"datum":-0.455,"type":"quantitative","scale":{"domain":[-4.639,3.369],"nice":false,"zero":false},"axis":null},
      "y2":{"datum":3.03}}},
    {"data":{"name":"ixt"},"mark":{"type":"rule","color":"#707070","strokeWidth":0.8},
     "encoding":{"x":{"field":"v","type":"quantitative","axis":null},"y":{"datum":-0.455,"type":"quantitative","axis":null},"y2":{"datum":-0.385}}},
    {"data":{"name":"ixt"},"mark":{"type":"rule","color":"#707070","strokeWidth":0.8},
     "encoding":{"x":{"field":"v","type":"quantitative","axis":null},"y":{"datum":3.03,"type":"quantitative","axis":null},"y2":{"datum":2.96}}},
    {"data":{"name":"iyt"},"mark":{"type":"rule","color":"#707070","strokeWidth":0.8},
     "encoding":{"y":{"field":"v","type":"quantitative","axis":null},"x":{"datum":654.697,"type":"quantitative","axis":null},"x2":{"datum":654.737}}},
    {"data":{"name":"iyt"},"mark":{"type":"rule","color":"#707070","strokeWidth":0.8},
     "encoding":{"y":{"field":"v","type":"quantitative","axis":null},"x":{"datum":659.715,"type":"quantitative","axis":null},"x2":{"datum":659.675}}},
    {"data":{"name":"ixt"},"mark":{"type":"text","fontSize":6,"color":"#444","baseline":"middle","align":"center"},
     "encoding":{"x":{"field":"v","type":"quantitative","axis":null},"y":{"datum":-0.617,"type":"quantitative","axis":null},"text":{"field":"v","type":"quantitative"}}},
    {"data":{"name":"iyt"},"mark":{"type":"text","fontSize":6,"color":"#444","baseline":"middle","align":"right"},
     "encoding":{"y":{"field":"v","type":"quantitative","axis":null},"x":{"datum":654.648,"type":"quantitative","axis":null},"text":{"field":"v","type":"quantitative"}}},
    {"data":{"values":[{"t":"Wavelength(nm)","w":657.188,"v":-0.8}]},"mark":{"type":"text","fontSize":6.5,"color":"#444","baseline":"middle","align":"center"},
     "encoding":{"x":{"field":"w","type":"quantitative","axis":null},"y":{"field":"v","type":"quantitative","axis":null},"text":{"field":"t"}}},
    {"data":{"values":[{"t":"intensity(a.u.)","w":654.464,"v":1.3}]},"mark":{"type":"text","fontSize":6,"color":"#444","baseline":"middle","align":"center","angle":270},
     "encoding":{"x":{"field":"w","type":"quantitative","axis":null},"y":{"field":"v","type":"quantitative","axis":null},"text":{"field":"t"}}},
    {"data":{"name":"itot"},"mark":{"type":"line","color":"#2030ff","strokeWidth":1.3},
     "encoding":{"x":{"field":"w","type":"quantitative","axis":null},"y":{"field":"v","type":"quantitative","axis":null}}},
    {"data":{"name":"iD"},"mark":{"type":"line","color":"#c040e0","strokeWidth":1.6},
     "encoding":{"x":{"field":"w","type":"quantitative","axis":null},"y":{"field":"v","type":"quantitative","axis":null}}},
    {"data":{"name":"iH"},"mark":{"type":"line","color":"#20c8ff","strokeWidth":1.6},
     "encoding":{"x":{"field":"w","type":"quantitative","axis":null},"y":{"field":"v","type":"quantitative","axis":null}}},
    {"data":{"name":"idots"},"mark":{"type":"point","shape":"circle","filled":true,"color":"#202040","size":5,"opacity":1},
     "encoding":{"x":{"field":"w","type":"quantitative","axis":null},"y":{"field":"v","type":"quantitative","axis":null}}},
    {"data":{"values":[{"t":"Instrumental Broadening","w":659.605,"v":2.59},{"t":"(using H/D lamp)","w":659.605,"v":2.1}]},
     "mark":{"type":"text","align":"right","baseline":"middle","fontSize":17,"color":"#2b8ad8"},
     "encoding":{"x":{"field":"w","type":"quantitative","axis":null},"y":{"field":"v","type":"quantitative","axis":null},"text":{"field":"t"}}},
    {"data":{"values":[{"t":"D","w":655.817,"v":1.137},{"t":"H","w":656.298,"v":2.06}]},
     "mark":{"type":"text","align":"center","baseline":"middle","fontSize":17,"fontWeight":"bold","color":"#7030a0"},
     "encoding":{"x":{"field":"w","type":"quantitative","axis":null},"y":{"field":"v","type":"quantitative","axis":null},"text":{"field":"t"}}},
    {"data":{"values":[{"t":"α","w":655.948,"v":1.068},{"t":"α","w":656.418,"v":1.922}]},
     "mark":{"type":"text","align":"center","baseline":"middle","fontSize":12,"fontWeight":"bold","color":"#7030a0"},
     "encoding":{"x":{"field":"w","type":"quantitative","axis":null},"y":{"field":"v","type":"quantitative","axis":null},"text":{"field":"t"}}}
  ]}
 ],
 "resolve":{"scale":{"x":"independent","y":"independent"}}}
]
}
